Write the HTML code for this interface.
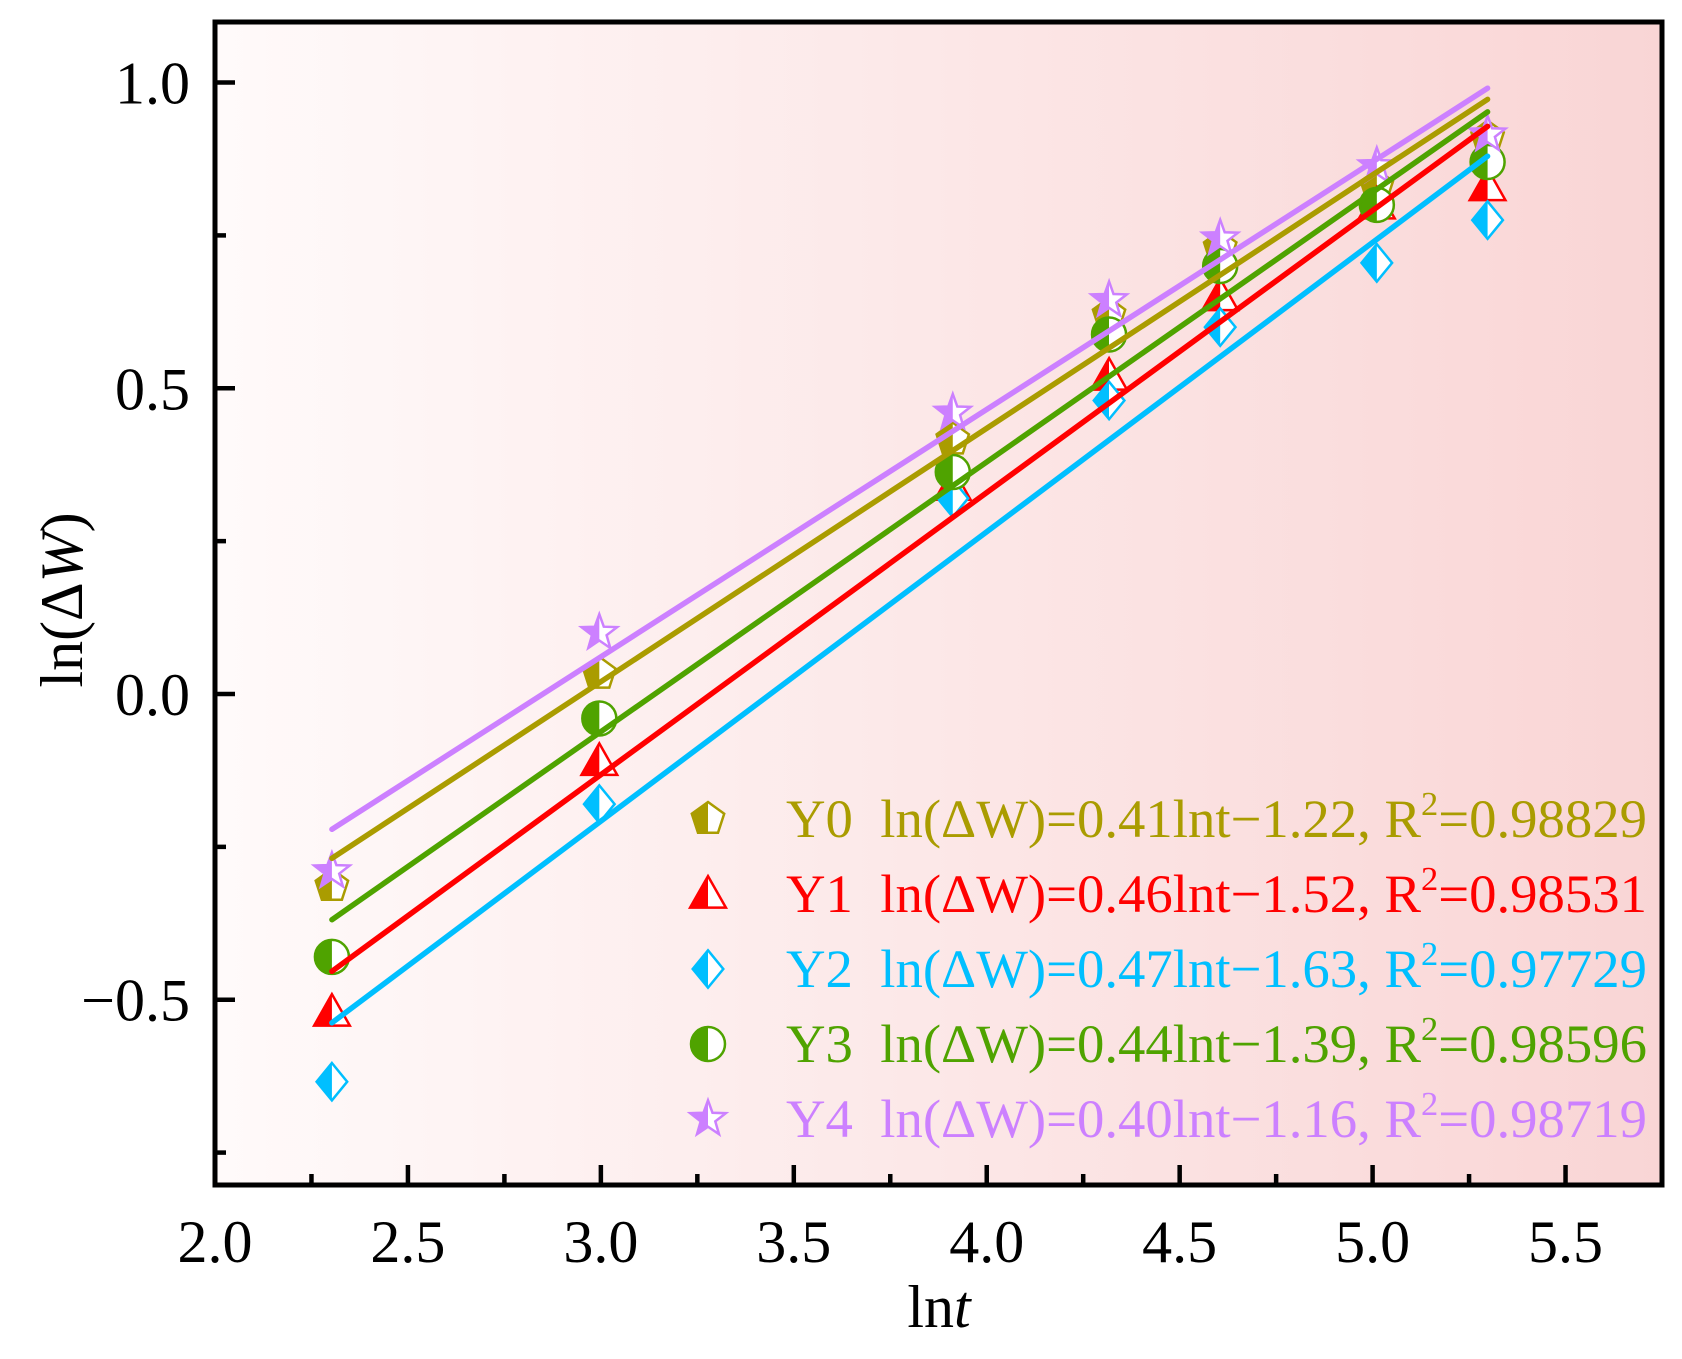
<!DOCTYPE html>
<html><head><meta charset="utf-8"><style>
html,body{margin:0;padding:0;background:#fff;}
svg{display:block;font-family:"Liberation Serif","DejaVu Serif",serif;}
</style></head><body>
<svg id="chart" width="1682" height="1359" viewBox="0 0 1682 1359" xmlns="http://www.w3.org/2000/svg">
<defs>
<linearGradient id="bg" x1="0" x2="1" y1="0" y2="0">
<stop offset="0" stop-color="#fffafa"/><stop offset="1" stop-color="#f9d5d5"/>
</linearGradient>
</defs>
<rect x="215" y="22" width="1447" height="1163" fill="url(#bg)"/>
<g id="marks"></g>
<g id="axes"></g>
<g id="legend"></g>
<text x="939" y="1327" font-size="60" text-anchor="middle">ln<tspan font-style="italic">t</tspan></text>
<text transform="translate(82,600) rotate(-90)" font-size="60" text-anchor="middle">ln(Δ<tspan font-style="italic">W</tspan>)</text>
</svg>
<script>
const xValues = [2.303, 2.996, 3.912, 4.317, 4.605, 5.011, 5.298];
const seriesNames = ["Y0","Y1","Y2","Y3","Y4"];
const y0Values = [-0.314, 0.033, 0.416, 0.62, 0.73, 0.83, 0.91];
const y1Values = [-0.52, -0.11, 0.34, 0.52, 0.65, 0.80, 0.83];
const y2Values = [-0.634, -0.18, 0.32, 0.48, 0.60, 0.705, 0.775];
const y3Values = [-0.43, -0.04, 0.363, 0.588, 0.70, 0.80, 0.87];
const y4Values = [-0.29, 0.10, 0.46, 0.644, 0.745, 0.863, 0.915];
const slopes = [0.41, 0.46, 0.47, 0.44, 0.40];
const intercepts = [-1.22, -1.52, -1.63, -1.39, -1.16];
const r2Values = ["0.98829","0.98531","0.97729","0.98596","0.98719"];
const xTicks = [2.0, 2.5, 3.0, 3.5, 4.0, 4.5, 5.0, 5.5];
const xTickLabels = ["2.0","2.5","3.0","3.5","4.0","4.5","5.0","5.5"];
const yTicks = [-0.5, 0.0, 0.5, 1.0];
const yTickLabels = ["\u22120.5","0.0","0.5","1.0"];

const NS = "http://www.w3.org/2000/svg";
const L = 215, R = 1662, T = 22, B = 1185;
const xMin = 2.0, xMax = 5.75, yMin = -0.803, yMax = 1.099;
const sx = v => L + (v - xMin) / (xMax - xMin) * (R - L);
const sy = v => B - (v - yMin) / (yMax - yMin) * (B - T);
const colors = ["#aa9c00", "#ff0000", "#00bfff", "#4fa300", "#cc80ff"];
const shapes = ["pentagon", "triangle", "diamond", "circle", "star"];
const allY = [y0Values, y1Values, y2Values, y3Values, y4Values];

function el(tag, attrs, parent) {
  const e = document.createElementNS(NS, tag);
  for (const k in attrs) e.setAttribute(k, attrs[k]);
  parent.appendChild(e);
  return e;
}
function fit(xs, ys) {
  const n = xs.length;
  const mx = xs.reduce((a, b) => a + b, 0) / n, my = ys.reduce((a, b) => a + b, 0) / n;
  let sxy = 0, sxx = 0;
  for (let i = 0; i < n; i++) { sxy += (xs[i] - mx) * (ys[i] - my); sxx += (xs[i] - mx) ** 2; }
  const m = sxy / sxx;
  return [m, my - m * mx];
}
function shapePath(shape, cx, cy, r) {
  let pts = [];
  if (shape === "pentagon") { for (let i = 0; i < 5; i++) { const a = -Math.PI/2 + i*2*Math.PI/5; pts.push([cx + r*Math.cos(a), cy + r*Math.sin(a)]); } }
  else if (shape === "triangle") { pts = [[cx, cy - r*1.05], [cx + r*1.05, cy + r*0.8], [cx - r*1.05, cy + r*0.8]]; }
  else if (shape === "diamond") { pts = [[cx, cy - r*1.1], [cx + r*0.9, cy], [cx, cy + r*1.1], [cx - r*0.9, cy]]; }
  else if (shape === "star") { for (let i = 0; i < 10; i++) { const a = -Math.PI/2 + i*Math.PI/5; const rr = i%2 ? r*0.45 : r*1.1; pts.push([cx + rr*Math.cos(a), cy + rr*Math.sin(a)]); } }
  if (shape === "circle") return "M" + (cx - r) + "," + cy + " a" + r + "," + r + " 0 1,0 " + 2*r + ",0 a" + r + "," + r + " 0 1,0 " + (-2*r) + ",0Z";
  return "M" + pts.map(p => p[0].toFixed(1) + "," + p[1].toFixed(1)).join(" L") + "Z";
}
let clipId = 0;
function marker(parent, shape, color, cx, cy, r, name) {
  const g = el("g", {}, parent);
  
  
  const d = shapePath(shape, cx, cy, r);
  el("path", {d: d, fill: "#ffffff", stroke: "none"}, g);
  const id = "c" + (clipId++);
  const cp = el("clipPath", {id: id}, g);
  el("rect", {x: cx - 3*r, y: cy - 3*r, width: 3*r, height: 6*r}, cp);
  el("path", {d: d, fill: color, "clip-path": "url(#" + id + ")"}, g);
  el("path", {d: d, fill: "none", stroke: color, "stroke-width": 2.5}, g);
}

const marks = document.getElementById("marks");
for (let s = 0; s < 5; s++) {
  for (let i = 0; i < xValues.length; i++) {
    marker(marks, shapes[s], colors[s], sx(xValues[i]), sy(allY[s][i]), 17, "point-" + seriesNames[s].toLowerCase() + "-" + i);
  }
}
for (let s = 0; s < 5; s++) {
  const [m, b] = fit(xValues, allY[s]);
  const x1 = xValues[0], x2 = xValues[xValues.length - 1];
  const ln = el("line", {x1: sx(x1), y1: sy(m*x1 + b), x2: sx(x2), y2: sy(m*x2 + b), stroke: colors[s], "stroke-width": 5.5, "stroke-linecap": "round"}, marks);
  
  
}

const axes = document.getElementById("axes");
const frame = el("rect", {x: L, y: T, width: R - L, height: B - T, fill: "none", stroke: "#000", "stroke-width": 5}, axes);


for (let v = 2.0; v <= 5.75 + 1e-9; v += 0.25) {
  const major = Math.abs(v*2 - Math.round(v*2)) < 1e-6;
  const t = el("line", {x1: sx(v), x2: sx(v), y1: B, y2: B - (major ? 20 : 11), stroke: "#000", "stroke-width": 4.5}, axes);
  
  
}
for (let v = -0.75; v <= 1.0 + 1e-9; v += 0.25) {
  const major = Math.abs(v*2 - Math.round(v*2)) < 1e-6;
  const t = el("line", {x1: L, x2: L + (major ? 20 : 11), y1: sy(v), y2: sy(v), stroke: "#000", "stroke-width": 4.5}, axes);
  
  
}
xTicks.forEach((v, i) => {
  const t = el("text", {x: sx(v), y: 1262, "font-size": 60, "text-anchor": "middle"}, axes);
  t.textContent = xTickLabels[i];
  
  
});
yTicks.forEach((v, i) => {
  const t = el("text", {x: 190, y: sy(v) + 21, "font-size": 60, "text-anchor": "end"}, axes);
  t.textContent = yTickLabels[i];
  
  
});

const legend = document.getElementById("legend");
for (let s = 0; s < 5; s++) {
  const by = 837 + s*75;
  marker(legend, shapes[s], colors[s], 708, by - 18, 17, "legend-marker-" + seriesNames[s].toLowerCase());
  const t = el("text", {x: 786, y: by, "font-size": 54, fill: colors[s], textLength: 861, lengthAdjust: "spacingAndGlyphs"}, legend);
  
  
  t.innerHTML = seriesNames[s] + "\u00a0\u00a0ln(\u0394W)=" + slopes[s].toFixed(2) + "lnt\u2212" + Math.abs(intercepts[s]).toFixed(2) + ", R<tspan dy='-22' font-size='34'>2</tspan><tspan dy='22'>=" + r2Values[s] + "</tspan>";
}
</script>
</body></html>
